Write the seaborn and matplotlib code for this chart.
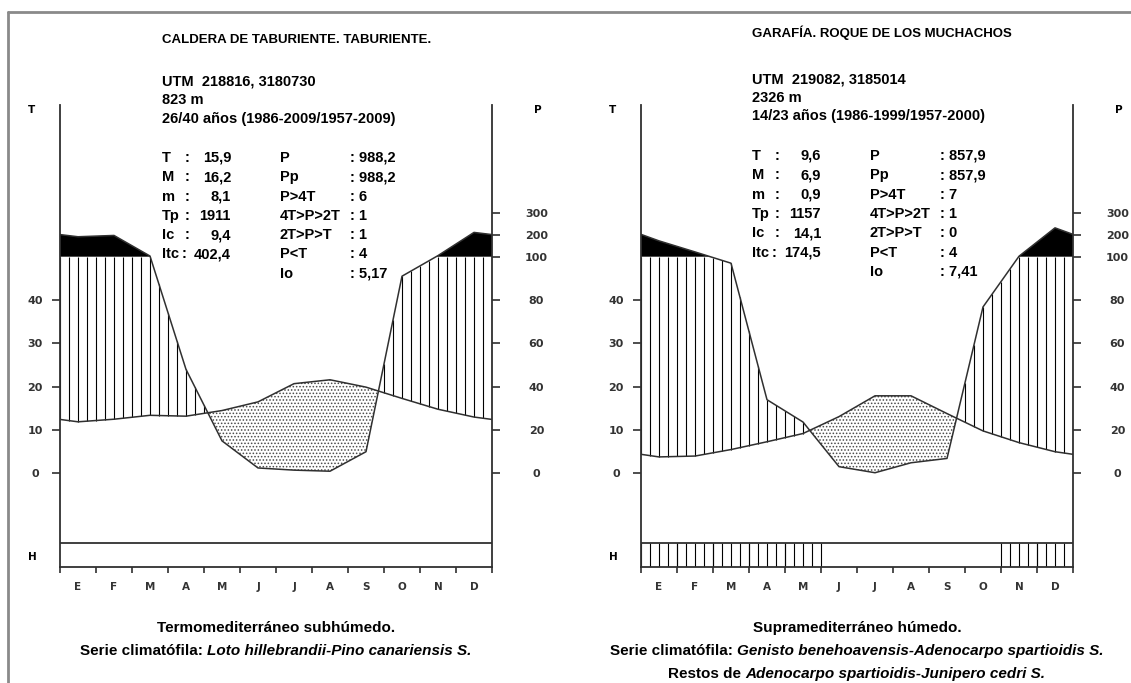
import numpy as np
import matplotlib.pyplot as plt
import seaborn as sns
from matplotlib.lines import Line2D

sns.set_theme(style="white")
plt.rcParams['font.family'] = ['DejaVu Sans']
plt.rcParams['hatch.linewidth'] = 0.7

# ---- data ----
months = ['E', 'F', 'M', 'A', 'M', 'J', 'J', 'A', 'S', 'O', 'N', 'D']

# Caldera de Taburiente
temp_cal = [11.9, 12.5, 13.4, 13.2, 14.5, 16.5, 20.7, 21.6, 19.9, 17.3, 14.8, 13.0]
prec_cal = [192, 198, 103, 48, 15, 2.5, 1.5, 1.0, 10, 91, 105, 212]
frost_cal = [0, 0, 0, 0, 0, 0, 0, 0, 0, 0, 0, 0]

# Garafia, Roque de los Muchachos
temp_gar = [3.8, 4.0, 5.5, 7.3, 9.2, 13.1, 17.9, 17.9, 13.8, 9.8, 7.1, 5.0]
prec_gar = [173, 122, 97, 34, 23.7, 3.1, 0.3, 4.9, 6.9, 76.8, 102, 233]
frost_gar = [1, 1, 1, 1, 1, 0, 0, 0, 0, 0, 1, 1]

t_ticks = [0, 10, 20, 30, 40]
p_ticks = [0, 20, 40, 60, 80, 100, 200, 300]

title_cal = 'CALDERA DE TABURIENTE. TABURIENTE.'
head_cal = ['UTM  218816, 3180730', '823 m', '26/40 años (1986-2009/1957-2009)']
idx1_cal = ['T', 'M', 'm', 'Tp', 'Ic', 'Itc']
val1_cal = ['15,9', '16,2', '8,1', '1911', '9,4', '402,4']
idx2_cal = ['P', 'Pp', 'P>4T', '4T>P>2T', '2T>P>T', 'P<T', 'Io']
val2_cal = ['988,2', '988,2', '6', '1', '1', '4', '5,17']
foot_cal = [[('Termomediterráneo subhúmedo.', 'normal')],
            [('Serie climatófila: ', 'normal'), ('Loto hillebrandii-Pino canariensis S.', 'italic')]]

title_gar = 'GARAFÍA. ROQUE DE LOS MUCHACHOS'
head_gar = ['UTM  219082, 3185014', '2326 m', '14/23 años (1986-1999/1957-2000)']
idx1_gar = ['T', 'M', 'm', 'Tp', 'Ic', 'Itc']
val1_gar = ['9,6', '6,9', '0,9', '1157', '14,1', '174,5']
idx2_gar = ['P', 'Pp', 'P>4T', '4T>P>2T', '2T>P>T', 'P<T', 'Io']
val2_gar = ['857,9', '857,9', '7', '1', '0', '4', '7,41']
foot_gar = [[('Supramediterráneo húmedo.', 'normal')],
            [('Serie climatófila: ', 'normal'),
             ('Genisto benehoavensis-Adenocarpo spartioidis S.', 'italic')],
            [('Restos de ', 'normal'), ('Adenocarpo spartioidis-Junipero cedri S.', 'italic')]]

# ---- layout (pixels) ----
W, H = 1131, 683
TXT_FONT = ['Liberation Sans Narrow', 'Liberation Sans', 'DejaVu Sans']
AX_FONT = ['DejaVu Sans']
Y_TOP, Y_BOT, H_TOP = 85.0, -21.6, -16.15
LINE_C = '#303030'


def p_scale(p):
    # precipitation axis: 2 mm per degree up to 100 mm, compressed 1/10 above
    p = np.asarray(p, dtype=float)
    return np.where(p <= 100, p / 2.0, 50 + (p - 100) / 20.0)


fig = plt.figure(figsize=(W / 100, H / 100), dpi=100)
fig.patch.set_facecolor('white')

# grey frame
fig.add_artist(Line2D([8 / W, 1], [1 - 12 / H, 1 - 12 / H], color='#8a8a8a', lw=2))
fig.add_artist(Line2D([8 / W, 8 / W], [0, 1 - 12 / H], color='#8a8a8a', lw=2))


def ftxt(x, y, s, **kw):
    kw.setdefault('va', 'center')
    kw.setdefault('color', 'black')
    return fig.text(x / W, 1 - y / H, s, **kw)


def centered_line(xc, y, parts, size):
    renderer = fig.canvas.get_renderer()
    objs, widths = [], []
    for s, style in parts:
        t = ftxt(0, y, s, family=TXT_FONT, fontsize=size, fontweight='bold',
                 fontstyle=style, ha='left')
        w = t.get_window_extent(renderer).width
        objs.append(t)
        widths.append(w)
    x = xc - sum(widths) / 2
    for t, w in zip(objs, widths):
        t.set_x(x / W)
        x += w


def draw_panel(x0, temp, prec, frost, title, head, idx1, val1, idx2, val2, foot, tx, ty):
    ax = fig.add_axes([x0 / W, (H - 567) / H, 432 / W, (567 - 105) / H])
    ax.set_facecolor('none')
    xs = np.concatenate([[0], np.arange(12) + 0.5, [12]])
    t = np.asarray(temp, dtype=float)
    p = p_scale(prec)
    tl = np.concatenate([[(t[0] + t[-1]) / 2], t, [(t[0] + t[-1]) / 2]])
    pl = np.concatenate([[(p[0] + p[-1]) / 2], p, [(p[0] + p[-1]) / 2]])

    xf = np.linspace(0, 12, 2401)
    tf = np.interp(xf, xs, tl)
    pf = np.interp(xf, xs, pl)

    # super-humid part (black)
    ax.fill_between(xf, 50, pf, where=pf >= 50, interpolate=True, color='black', lw=0)
    # dry part (stippled)
    ax.fill_between(xf, pf, tf, where=tf > pf, interpolate=True, facecolor='none',
                    edgecolor='#4a4a4a', hatch='.....', lw=0)
    # humid part (vertical hatching)
    xq = np.arange(0, 12.001, 0.25)
    tq = np.interp(xq, xs, tl)
    pq = np.interp(xq, xs, pl)
    m = pq > tq
    ax.vlines(xq[m], tq[m], np.minimum(pq[m], 50), color='black', lw=0.8)

    # frost band
    for i, f in enumerate(frost):
        if f:
            ax.vlines(i + np.arange(0, 1.001, 0.25), Y_BOT, H_TOP, color='black', lw=0.8)
    ax.axhline(H_TOP, color=LINE_C, lw=1.3)

    sns.lineplot(x=xs, y=tl, ax=ax, color=LINE_C, lw=1.1, sort=False)
    sns.lineplot(x=xs, y=pl, ax=ax, color=LINE_C, lw=1.1, sort=False)

    ax.set_xlim(0, 12)
    ax.set_ylim(Y_BOT, Y_TOP)
    ax.spines['top'].set_visible(False)
    for s in ['left', 'right', 'bottom']:
        ax.spines[s].set_color(LINE_C)
        ax.spines[s].set_linewidth(1.3)

    ax.set_xticks(range(13))
    ax.set_xticklabels([])
    ax.set_xticks(np.arange(12) + 0.5, minor=True)
    ax.set_xticklabels(months, minor=True, family=AX_FONT, fontweight='bold',
                       fontsize=7.5, color='#333333')
    ax.tick_params(axis='x', which='major', bottom=True, length=4, width=1.2,
                   color=LINE_C, direction='out')
    ax.tick_params(axis='x', which='minor', bottom=True, length=0, pad=11)

    ax.set_yticks(t_ticks)
    ax.set_yticklabels([str(v) for v in t_ticks], family=AX_FONT, fontweight='bold',
                       fontsize=8, color='#333333')
    ax.tick_params(axis='y', left=True, length=6, width=1.2, color=LINE_C, pad=12)
    for lab in ax.get_yticklabels():
        lab.set_ha('center')

    ax2 = ax.twinx()
    ax2.set_ylim(Y_BOT, Y_TOP)
    for s in ax2.spines.values():
        s.set_visible(False)
    ax2.set_yticks(p_scale(p_ticks))
    ax2.set_yticklabels([str(v) for v in p_ticks], family=AX_FONT, fontweight='bold',
                        fontsize=8, color='#333333')
    ax2.tick_params(axis='y', right=True, length=6, width=1.2, color=LINE_C, pad=26)
    for lab in ax2.get_yticklabels():
        lab.set_ha('center')
    ax2.grid(False)
    ax.grid(False)

    # axis letters
    ftxt(x0 - 32, 110, 'T', family=AX_FONT, fontweight='bold', fontsize=7.5)
    ftxt(x0 + 474, 110, 'P', family=AX_FONT, fontweight='bold', fontsize=7.5)
    ftxt(x0 - 32, 557, 'H', family=AX_FONT, fontweight='bold', fontsize=7.5)

    # station header
    ftxt(tx, ty[0], title, family=TXT_FONT, fontweight='bold', fontsize=9.5)
    for j, s in enumerate(head):
        ftxt(tx, ty[1] + 18.5 * j, s, family=TXT_FONT, fontweight='bold', fontsize=10.5)
    for j in range(len(idx1)):
        y = ty[2] + 19.3 * j
        ftxt(tx, y, idx1[j], family=TXT_FONT, fontweight='bold', fontsize=10.5)
        cx = tx + 23 if len(idx1[j]) < 3 else tx + 20
        ftxt(cx, y, ':', family=TXT_FONT, fontweight='bold', fontsize=10.5)
        ftxt(tx + 69, y, val1[j], family=TXT_FONT, fontweight='bold', fontsize=10.5, ha='right')
    for j in range(len(idx2)):
        y = ty[2] + 19.3 * j
        ftxt(tx + 118, y, idx2[j], family=TXT_FONT, fontweight='bold', fontsize=10.5)
        ftxt(tx + 188, y, ': ' + val2[j], family=TXT_FONT, fontweight='bold', fontsize=10.5)

    # bioclimatic footnote
    xc = x0 + 216
    for j, parts in enumerate(foot):
        centered_line(xc, 628 + 23 * j, parts, 11)


draw_panel(60, temp_cal, prec_cal, frost_cal, title_cal, head_cal, idx1_cal, val1_cal,
           idx2_cal, val2_cal, foot_cal, 162, [40, 82, 158])
draw_panel(641, temp_gar, prec_gar, frost_gar, title_gar, head_gar, idx1_gar, val1_gar,
           idx2_gar, val2_gar, foot_gar, 752, [33, 79, 156])

fig.savefig('out.png', dpi=100)
